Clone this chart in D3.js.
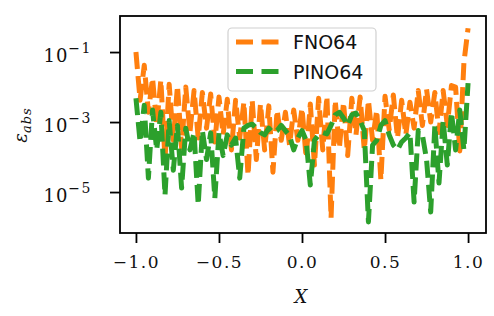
<!DOCTYPE html>
<html>
<head>
<meta charset="utf-8">
<script src="https://cdn.jsdelivr.net/npm/d3@7"></script>
<style>
  body { margin: 0; background: #fff; }
  svg { display: block; }
  .tick text { font-family: "DejaVu Serif", serif; }
</style>
</head>
<body>
<div id="chart"></div>
<script>
// x grid of the sampled points
const xs = [
  -1.000, -0.975, -0.950, -0.925, -0.900, -0.875, -0.850, -0.825, -0.800, -0.775,
  -0.750, -0.725, -0.700, -0.675, -0.650, -0.625, -0.600, -0.575, -0.550, -0.525,
  -0.500, -0.475, -0.450, -0.425, -0.400, -0.375, -0.350, -0.325, -0.300, -0.275,
  -0.250, -0.225, -0.200, -0.175, -0.150, -0.125, -0.100, -0.075, -0.050, -0.025,
   0.000,  0.025,  0.050,  0.075,  0.100,  0.125,  0.150,  0.175,  0.200,  0.225,
   0.250,  0.275,  0.300,  0.325,  0.350,  0.375,  0.400,  0.425,  0.450,  0.475,
   0.500,  0.525,  0.550,  0.575,  0.600,  0.625,  0.650,  0.675,  0.700,  0.725,
   0.750,  0.775,  0.800,  0.825,  0.850,  0.875,  0.900,  0.925,  0.950,  0.975,
   1.000
];

// absolute error, FNO64
const fno64 = [
  1.0e-1, 4.2e-3, 4.2e-2, 1.9e-3, 1.8e-2, 8.0e-4, 1.6e-2, 8.5e-5, 1.2e-2, 3.0e-4,
  1.1e-2, 1.8e-4, 1.0e-2, 5.0e-4, 8.0e-3, 3.5e-4, 7.0e-3, 6.7e-4, 6.3e-3, 2.7e-4,
  5.2e-3, 4.3e-4, 4.5e-3, 1.6e-4, 4.2e-3, 3.5e-4, 3.7e-3, 3.0e-5, 4.2e-3, 8.5e-5,
  3.3e-3, 1.6e-4, 2.9e-3, 3.7e-5, 2.2e-3, 3.0e-4, 1.9e-3, 2.2e-4, 2.2e-3, 3.0e-4,
  2.5e-3, 9.5e-5, 3.3e-3, 5.9e-5, 4.8e-3, 1.6e-4, 5.5e-3, 1.8e-6, 4.2e-3, 1.8e-4,
  3.7e-3, 1.1e-4, 4.8e-3, 4.3e-4, 5.2e-3, 1.6e-4, 4.2e-3, 3.0e-4, 2.2e-3, 2.2e-5,
  5.5e-3, 6.0e-4, 5.9e-3, 3.5e-4, 4.2e-3, 4.3e-4, 3.7e-3, 6.7e-4, 8.0e-3, 8.0e-4,
  8.7e-3, 1.0e-3, 7.0e-3, 5.0e-4, 8.0e-3, 8.0e-4, 1.1e-2, 1.0e-2, 1.5e-4, 5.0e-2,
  4.8e-1
];

// absolute error, PINO64
const pino64 = [
  4.8e-3, 2.7e-4, 3.0e-3, 2.5e-5, 2.2e-3, 1.6e-4, 1.9e-3, 8.0e-6, 1.1e-3, 4.2e-5,
  8.0e-4, 1.3e-5, 6.7e-4, 1.6e-4, 5.0e-4, 4.3e-6, 5.7e-4, 8.5e-5, 4.9e-4, 6.7e-6,
  5.0e-4, 1.1e-4, 4.3e-4, 2.2e-4, 3.5e-4, 2.5e-5, 6.7e-4, 8.0e-4, 8.7e-4, 6.7e-4,
  5.0e-4, 4.3e-4, 6.7e-4, 5.0e-4, 5.7e-4, 8.0e-4, 5.7e-4, 4.0e-4, 1.6e-4, 3.5e-4,
  5.7e-4, 3.0e-4, 1.6e-5, 3.0e-4, 4.3e-4, 5.0e-4, 4.6e-4, 8.0e-4, 1.6e-3, 1.9e-3,
  1.3e-3, 8.0e-4, 1.6e-3, 1.8e-3, 1.1e-3, 5.7e-4, 1.4e-6, 2.2e-4, 3.0e-4, 8.0e-4,
  1.1e-3, 4.3e-4, 2.2e-4, 1.6e-4, 2.7e-4, 3.5e-4, 5.0e-4, 5.2e-6, 5.7e-4, 4.3e-4,
  8.5e-5, 2.7e-6, 8.0e-4, 1.8e-5, 1.1e-3, 5.9e-5, 1.9e-3, 1.6e-4, 2.2e-3, 1.6e-4,
  1.3e-2
];

const seriesNames = ["FNO64", "PINO64"];
const seriesColors = ["#ff7f0e", "#2ca02c"];
const xTicks = [-1.0, -0.5, 0.0, 0.5, 1.0];
const yTicks = [1e-1, 1e-3, 1e-5];
const yTickExp = ["\u22121", "\u22123", "\u22125"];

const W = 494, H = 316;
const plot = { left: 120, right: 486, top: 16, bottom: 233 };

const svg = d3.select("#chart").append("svg")
  .attr("width", W)
  .attr("height", H);

const x = d3.scaleLinear()
  .domain([-1.096, 1.108])
  .range([plot.left, plot.right]);

const y = d3.scaleLog()
  .domain([Math.pow(10, -6.17), Math.pow(10, 0.03)])
  .range([plot.bottom, plot.top]);

svg.append("clipPath").attr("id", "clip")
  .append("rect")
  .attr("x", plot.left).attr("y", plot.top)
  .attr("width", plot.right - plot.left)
  .attr("height", plot.bottom - plot.top);

const line = d3.line()
  .x((d, i) => x(xs[i]))
  .y(d => y(d));

const data = [fno64, pino64];
svg.append("g").attr("clip-path", "url(#clip)")
  .selectAll("path")
  .data(data)
  .enter()
  .append("path")
  .attr("d", d => line(d))
  .attr("fill", "none")
  .attr("stroke", (d, i) => seriesColors[i])
  .attr("stroke-width", 5)
  .attr("stroke-dasharray", "17,7")
  .attr("stroke-linejoin", "round")
  .attr("stroke-linecap", "butt");

// frame
svg.append("rect")
  .attr("x", plot.left).attr("y", plot.top)
  .attr("width", plot.right - plot.left)
  .attr("height", plot.bottom - plot.top)
  .attr("fill", "none")
  .attr("stroke", "#000")
  .attr("stroke-width", 1.8);

// x axis
const xAxis = svg.append("g")
  .attr("transform", "translate(0," + plot.bottom + ")")
  .call(d3.axisBottom(x).tickValues(xTicks).tickFormat(d3.format(".1f")).tickSize(10).tickPadding(13));
xAxis.select(".domain").remove();
xAxis.selectAll(".tick line").attr("stroke-width", 1.8);
xAxis.selectAll(".tick text")
  .attr("font-size", 17)
  .attr("letter-spacing", 1.5)
  .attr("fill", "#111");

// y axis
const yAxis = svg.append("g")
  .attr("transform", "translate(" + plot.left + ",0)")
  .call(d3.axisLeft(y).tickValues(yTicks).tickFormat("").tickSize(10));
yAxis.select(".domain").remove();
yAxis.selectAll(".tick line").attr("stroke-width", 1.8);

const yLab = yAxis.selectAll(".tick").append("text")
  .attr("x", -28)
  .attr("y", 9)
  .attr("text-anchor", "end")
  .attr("fill", "#111")
  .attr("font-size", 18);
yLab.append("tspan").attr("letter-spacing", 1).text("10");
yLab.append("tspan")
  .attr("dy", -9)
  .attr("font-size", 14)
  .attr("letter-spacing", 1.5)
  .text((d, i) => yTickExp[i]);

// axis titles
svg.append("text")
  .attr("x", 301)
  .attr("y", 303)
  .attr("text-anchor", "middle")
  .attr("font-family", "DejaVu Serif, serif")
  .attr("font-style", "italic")
  .attr("font-size", 18)
  .attr("fill", "#111")
  .text("X");

const yTitle = svg.append("text")
  .attr("transform", "translate(27,125) rotate(-90)")
  .attr("text-anchor", "middle")
  .attr("font-family", "DejaVu Serif, serif")
  .attr("font-style", "italic")
  .attr("fill", "#111")
  .attr("font-size", 18);
yTitle.append("tspan").text("\u03b5");
yTitle.append("tspan").attr("dy", 4).attr("font-size", 13).attr("letter-spacing", 1).text("abs");

// legend
const legend = svg.append("g");
legend.append("rect")
  .attr("x", 228).attr("y", 28)
  .attr("width", 148).attr("height", 63)
  .attr("rx", 4)
  .attr("fill", "#fff")
  .attr("fill-opacity", 0.8)
  .attr("stroke", "#d0d0d0")
  .attr("stroke-width", 1.2);

const item = legend.selectAll(".item")
  .data(seriesNames)
  .enter()
  .append("g")
  .attr("transform", (d, i) => "translate(0," + (42 + i * 29.5) + ")");
item.append("line")
  .attr("x1", 236).attr("x2", 279)
  .attr("stroke", (d, i) => seriesColors[i])
  .attr("stroke-width", 5)
  .attr("stroke-dasharray", "17,8.5");
item.append("text")
  .attr("x", 293)
  .attr("y", 7)
  .attr("font-family", "DejaVu Sans, sans-serif")
  .attr("font-size", 19)
  .attr("fill", "#111")
  .text(d => d);
</script>
</body>
</html>
